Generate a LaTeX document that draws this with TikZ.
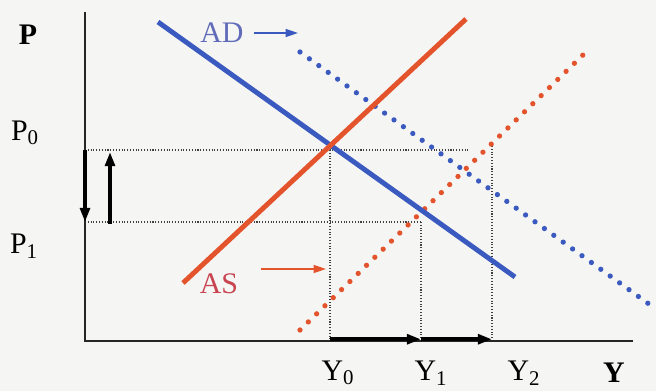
\documentclass[tikz,border=0pt]{standalone}
\usepackage{fontspec}
\setmainfont{Liberation Serif}
\usetikzlibrary{arrows.meta}
\definecolor{paper}{RGB}{245,245,243}
\definecolor{adblue}{RGB}{58,90,192}
\definecolor{asred}{RGB}{228,84,44}
\definecolor{adtext}{RGB}{96,108,186}
\definecolor{astext}{RGB}{200,68,80}
\tikzset{
  axis/.style={line width=1pt, black!85},
  curve/.style={line width=2.8pt},
  shifted/.style={line width=3pt, line cap=round, dash pattern=on 0pt off 6.6pt},
  guide/.style={line width=0.6pt, black!75, densely dotted},
  move/.style={line width=2pt, -{Triangle[length=8pt,width=5.5pt]}},
  tag/.style={line width=0.9pt, -{Triangle[length=7pt,width=4.5pt]}},
  lbl/.style={font=\fontsize{17}{20}\selectfont, inner sep=0pt}
}
\begin{document}
\begin{tikzpicture}[x=0.02cm, y=-0.02cm]
	\fill[paper] (0,0) rectangle (656,391);
	\useasboundingbox (0,0) rectangle (656,391);
	\coordinate (top) at (85,12);
	\coordinate (O) at (85,341);
	\coordinate (right) at (633,341);
	\coordinate (E0) at (330,150);
	\coordinate (E1) at (421,222);
	\coordinate (E2) at (492,146);
	\coordinate (P0end) at (470,150);
	\coordinate (P0) at (85,150);
	\coordinate (P1) at (85,222);
	\coordinate (Y0) at (330,341);
	\coordinate (Y1) at (421,341);
	\coordinate (Y2) at (492,341);
	\node[lbl] (lblP) at (28,35) {\textbf{P}};
	\node[lbl] (lblPzero) at (25,133) {P\textsubscript{0}};
	\node[lbl] (lblPone) at (24,246) {P\textsubscript{1}};
	\node[lbl] (lblYzero) at (338,373) {Y\textsubscript{0}};
	\node[lbl] (lblYone) at (431,373) {Y\textsubscript{1}};
	\node[lbl] (lblYtwo) at (524,373) {Y\textsubscript{2}};
	\node[lbl] (lblY) at (614,373) {\textbf{Y}};
	\draw[guide] (P0) -- (P0end);
	\draw[guide] (P1) -- (E1);
	\draw[guide] (E0) -- (Y0);
	\draw[guide] (E1) -- (Y1);
	\draw[guide] (E2) -- (Y2);
	\draw[adblue, shifted] (300,52) -- (653,307);
	\draw[asred, shifted] (300,330) -- (585,53);
	\draw[adblue, curve] (158,22) -- (515,277);
	\draw[asred, curve] (183,283) -- (466,19);
	\draw[axis] (top) -- (O) -- (right);
	\draw[move] (P0) -- (P1);
	\draw[move] (110,224) -- (110,152);
	\draw[move] ([yshift=1]Y0) -- ([yshift=1]Y1);
	\draw[move] ([yshift=1]Y1) -- ([yshift=1]Y2);
	\node[lbl, text=adtext] (lblAD) at (222,33) {AD};
	\node[lbl, text=astext] (lblAS) at (219,284) {AS};
	\coordinate (ADtip) at (298,33);
	\coordinate (AStip) at (326,269);
	\draw[tag, adblue] ([xshift=6]lblAD.east) -- (ADtip);
	\draw[tag, asred] ([xshift=13]lblAS.east) ++(0,-15) -- (AStip);
\end{tikzpicture}
\end{document}
